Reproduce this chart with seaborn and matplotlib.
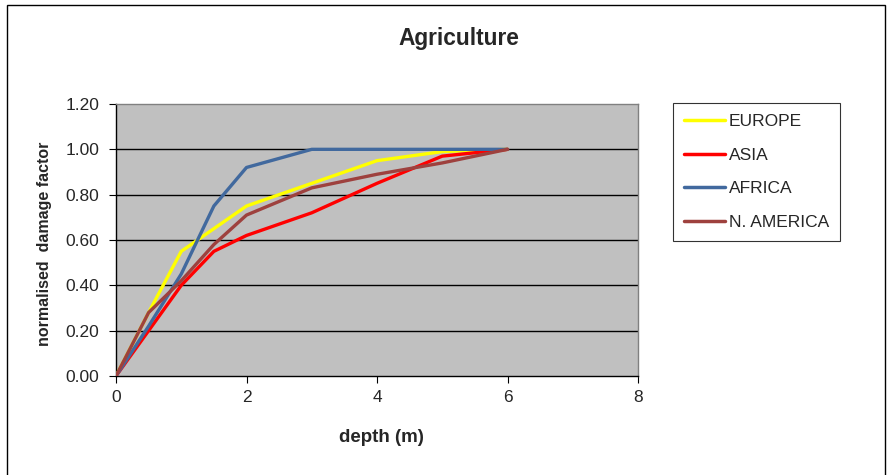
import matplotlib
matplotlib.use("Agg")
import matplotlib.pyplot as plt
import seaborn as sns
import pandas as pd
from matplotlib.patches import Rectangle

depth_europe = [0, 0.5, 1, 1.5, 2, 3, 4, 5, 6]
europe = [0, 0.28, 0.55, 0.65, 0.75, 0.85, 0.95, 0.99, 1.00]
depth_asia = [0, 0.5, 1, 1.5, 2, 3, 4, 5, 6]
asia = [0, 0.20, 0.40, 0.55, 0.62, 0.72, 0.85, 0.97, 1.00]
depth_africa = [0, 0.5, 1, 1.5, 2, 3, 4, 5, 6]
africa = [0, 0.22, 0.45, 0.75, 0.92, 1.00, 1.00, 1.00, 1.00]
depth_namerica = [0, 0.5, 1, 1.5, 2, 3, 4, 5, 6]
namerica = [0, 0.28, 0.42, 0.58, 0.71, 0.83, 0.89, 0.94, 1.00]

regions = ["EUROPE", "ASIA", "AFRICA", "N. AMERICA"]
colors = ["#FFFF00", "#FF0000", "#41699E", "#9E413E"]
y_ticks = [0.0, 0.2, 0.4, 0.6, 0.8, 1.0, 1.2]
x_ticks = [0, 2, 4, 6, 8]

frames = []
for name, xs, ys in [("EUROPE", depth_europe, europe), ("ASIA", depth_asia, asia),
                     ("AFRICA", depth_africa, africa), ("N. AMERICA", depth_namerica, namerica)]:
    frames.append(pd.DataFrame({"depth": xs, "value": ys, "region": name}))
df = pd.concat(frames, ignore_index=True)

sns.set_style("white")
plt.rcParams["font.family"] = ["Liberation Sans", "DejaVu Sans"]

W, H = 893, 475
fig = plt.figure(figsize=(W / 100, H / 100), dpi=100)
ax = fig.add_axes([116 / W, 1 - 376 / H, (638 - 116) / W, (376 - 104) / H])
ax.set_facecolor("#C0C0C0")

sns.lineplot(data=df, x="depth", y="value", hue="region", hue_order=regions,
             palette=colors, linewidth=2.4, ax=ax, sort=False, estimator=None,
             legend=True, zorder=3)

ax.set_xlim(0, 8)
ax.set_ylim(0, 1.2)
ax.set_xticks(x_ticks)
ax.set_xticklabels([str(t) for t in x_ticks], fontsize=12.5)
ax.set_yticks(y_ticks)
ax.set_yticklabels([f"{t:.2f}" for t in y_ticks], fontsize=12.5)
ax.tick_params(axis="y", direction="out", length=5, width=0.8, color="black",
               left=True, pad=7)
ax.tick_params(axis="x", direction="out", length=5, width=0.8, color="black",
               bottom=True, pad=5)
for y in y_ticks[1:-1]:
    ax.axhline(y, color="black", linewidth=1.0, zorder=1)
for side in ["top", "right"]:
    ax.spines[side].set_color("#808080")
    ax.spines[side].set_linewidth(1.0)
for side in ["left", "bottom"]:
    ax.spines[side].set_color("black")
    ax.spines[side].set_linewidth(1.0)

ax.set_xlabel("depth (m)", fontsize=13.5, fontweight="bold", va="center")
ax.xaxis.set_label_coords((381 - 116) / 522, (376 - 438) / 272)
ax.set_ylabel("normalised  damage factor", fontsize=11.5, fontweight="bold", va="center")
ax.yaxis.set_label_coords((45 - 116) / 522, (376 - 244) / 272)

fig.text(459 / W, 1 - 38 / H, "Agriculture", ha="center", va="center",
         fontsize=16.4, fontweight="bold")

handles, labels = ax.get_legend_handles_labels()
leg = ax.legend(handles, labels, loc="upper left",
                bbox_to_anchor=(673 / W, 1 - 103 / H), bbox_transform=fig.transFigure,
                borderaxespad=0, frameon=True, fancybox=False, fontsize=12.5,
                handlelength=2.36, handletextpad=0.23, labelspacing=1.07,
                borderpad=0.62)
leg.get_frame().set_edgecolor("black")
leg.get_frame().set_linewidth(0.8)
for line in leg.get_lines():
    line.set_linewidth(2.5)

fig.patches.append(Rectangle((7 / W, -0.05), (885 - 7) / W, 1.05 - 5 / H,
                             transform=fig.transFigure, fill=False,
                             edgecolor="black", linewidth=1.0))

fig.savefig("out.png", dpi=100)
